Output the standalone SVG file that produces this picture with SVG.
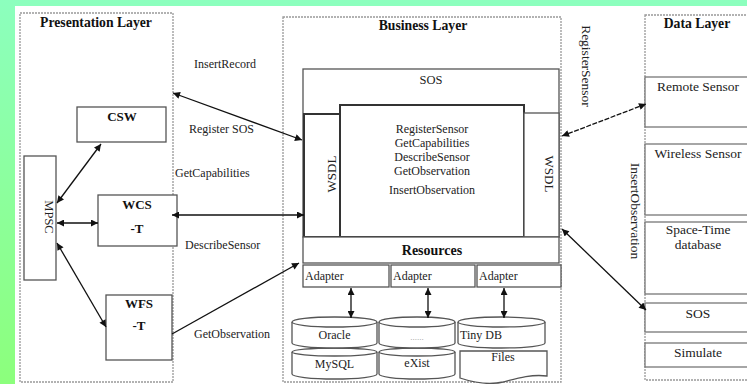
<svg xmlns="http://www.w3.org/2000/svg" width="747" height="384" viewBox="0 0 747 384">
<defs>
<linearGradient id="bg" x1="0" y1="0" x2="0" y2="1">
<stop offset="0" stop-color="#8cffbe"/>
<stop offset="1" stop-color="#8cff7c"/>
</linearGradient>
<marker id="arr" viewBox="0 0 10 10" refX="10" refY="5" markerWidth="9" markerHeight="7" markerUnits="userSpaceOnUse" orient="auto-start-reverse">
<path d="M0,0 L10,5 L0,10 z" fill="#111"/>
</marker>
<style>
.layer{fill:none;stroke:#999;stroke-width:1.3;stroke-dasharray:2,1}
.box{fill:#fff;stroke:#555;stroke-width:1.3}
.thick{fill:#fff;stroke:#333;stroke-width:2}
.row{fill:#fff;stroke:#777;stroke-width:1.3}
.t{font-family:"Liberation Serif","Times New Roman",serif;fill:#222}
.b{font-weight:bold;fill:#111}
.c{text-anchor:middle}
.ln{stroke:#111;stroke-width:1.3;fill:none}
.da{marker-start:url(#arr);marker-end:url(#arr)}
.sa{marker-end:url(#arr)}
</style>
</defs>
<rect x="0" y="0" width="747" height="384" fill="url(#bg)"/>
<rect x="15" y="6" width="732" height="378" fill="#fff"/>

<g id="presentation-layer">
<rect class="layer" x="20" y="13" width="153" height="369"/>
<text class="t b c" x="96" y="27" font-size="13.7">Presentation Layer</text>
</g>
<g id="csw">
<rect class="box" x="77" y="107" width="89" height="35"/>
<text class="t b c" x="122" y="121" font-size="13">CSW</text>
</g>
<g id="mpsc">
<rect class="box" x="24" y="156" width="32" height="124"/>
<text class="t c" font-size="12.5" transform="translate(49,217) rotate(90)" dy="0.35em">MPSC</text>
</g>
<g id="wcs">
<rect class="box" x="98" y="195" width="79" height="51"/>
<text class="t b c" x="137" y="209" font-size="13">WCS</text>
<text class="t b c" x="137" y="233" font-size="13">-T</text>
</g>
<g id="wfs">
<rect class="box" x="106" y="295" width="66" height="65"/>
<text class="t b c" x="139" y="308" font-size="13">WFS</text>
<text class="t b c" x="139" y="330" font-size="13">-T</text>
</g>

<g id="business-layer">
<rect class="layer" x="283" y="17" width="278" height="365"/>
<text class="t b c" x="423" y="30" font-size="13.7">Business Layer</text>
</g>
<g id="sos">
<rect class="box" x="303" y="69" width="256" height="168"/>
<text class="t c" x="431" y="84" font-size="12.5">SOS</text>
</g>
<g id="wsdl-left">
<rect class="thick" x="304" y="114" width="36" height="123"/>
<text class="t c" font-size="13" transform="translate(331,174) rotate(-90)" dy="0.35em">WSDL</text>
</g>
<g id="operations">
<rect class="thick" x="340" y="105" width="184" height="132"/>
<text class="t c" x="432" y="133" font-size="12">RegisterSensor</text>
<text class="t c" x="432" y="147" font-size="12">GetCapabilities</text>
<text class="t c" x="432" y="161" font-size="12">DescribeSensor</text>
<text class="t c" x="432" y="175" font-size="12">GetObservation</text>
<text class="t c" x="432" y="194" font-size="12">InsertObservation</text>
</g>
<g id="wsdl-right">
<rect class="box" x="524" y="113" width="35" height="124"/>
<text class="t c" font-size="13" transform="translate(550,174) rotate(90)" dy="0.35em">WSDL</text>
</g>
<g id="resources">
<rect class="box" x="303" y="237" width="256" height="26"/>
<text class="t b c" x="432" y="255" font-size="14">Resources</text>
</g>
<g id="adapter-1">
<rect class="box" x="303" y="265" width="86" height="22"/>
<text class="t" x="305" y="280" font-size="12">Adapter</text>
</g>
<g id="adapter-2">
<rect class="box" x="391" y="265" width="84" height="22"/>
<text class="t" x="393" y="280" font-size="12">Adapter</text>
</g>
<g id="adapter-3">
<rect class="box" x="477" y="265" width="84" height="22"/>
<text class="t" x="479" y="280" font-size="12">Adapter</text>
</g>

<g id="mysql">
<path class="box" d="M292,352 L292,374 A42.5,5 0 0 0 377,374 L377,352"/>
<ellipse class="box" cx="334.5" cy="352" rx="42.5" ry="4"/>
<text class="t c" x="334.5" y="368" font-size="12">MySQL</text>
</g>
<g id="oracle">
<path class="box" d="M292,322 L292,343 A42.5,5 0 0 0 377,343 L377,322"/>
<ellipse class="box" cx="334.5" cy="322" rx="42.5" ry="5"/>
<text class="t c" x="334.5" y="339" font-size="12">Oracle</text>
</g>
<g id="exist">
<path class="box" d="M379,352 L379,374 A38,5 0 0 0 455,374 L455,352"/>
<ellipse class="box" cx="417" cy="352" rx="38" ry="4"/>
<text class="t c" x="417" y="367" font-size="12">eXist</text>
</g>
<g id="dots">
<path class="box" d="M379,322 L379,343 A38,5 0 0 0 455,343 L455,322"/>
<ellipse class="box" cx="417" cy="322" rx="38" ry="5"/>
<text class="t c" x="417" y="340" font-size="9" fill="#999" style="fill:#999">......</text>
</g>
<g id="tinydb">
<path class="box" d="M458,322 L458,343 A43.5,5 0 0 0 545,343 L545,322"/>
<ellipse class="box" cx="501.5" cy="322" rx="43.5" ry="5"/>
<text class="t" x="460" y="339" font-size="12">Tiny DB</text>
</g>
<g id="files">
<path class="box" d="M460,351 L547,351 L547,376 C532,374 518,378 503,382 C490,385 475,383 460,378 Z"/>
<text class="t c" x="503" y="361" font-size="12">Files</text>
</g>

<g id="data-layer">
<rect class="layer" x="645" y="15" width="110" height="365"/>
<text class="t b c" x="697" y="28" font-size="13.7">Data Layer</text>
</g>
<g id="remote-sensor">
<rect class="row" x="645" y="77" width="110" height="50"/>
<text class="t c" x="698" y="91" font-size="13.5">Remote Sensor</text>
</g>
<g id="wireless-sensor">
<rect class="row" x="645" y="144" width="110" height="71"/>
<text class="t c" x="698" y="158" font-size="13.5">Wireless Sensor</text>
</g>
<g id="space-time-database">
<rect class="row" x="645" y="222" width="110" height="72"/>
<text class="t c" x="698" y="234" font-size="13.5">Space-Time</text>
<text class="t c" x="698" y="249" font-size="13.5">database</text>
</g>
<g id="data-sos">
<rect class="row" x="645" y="303" width="110" height="29"/>
<text class="t c" x="698" y="318" font-size="13.5">SOS</text>
</g>
<g id="simulate">
<rect class="row" x="645" y="343" width="110" height="24"/>
<text class="t c" x="698" y="357" font-size="13.5">Simulate</text>
</g>

<g id="connectors">
<path class="ln da" d="M57,203 L101,144"/>
<path class="ln da" d="M57,223 L98,223"/>
<path class="ln da" d="M57,243 L106,327"/>
<path class="ln da" d="M173,93 L302,140"/>
<path class="ln da" d="M172,215 L304,215"/>
<path class="ln sa" d="M172,334 L299,263"/>
<path class="ln da" d="M351,288 L351,318"/>
<path class="ln da" d="M428,288 L428,318"/>
<path class="ln da" d="M504,288 L504,318"/>
<path class="ln da" d="M562,136 L646,104" stroke-dasharray="5,1.5"/>
<path class="ln da" d="M562,229 L646,310"/>
<text class="t" x="194" y="68" font-size="12">InsertRecord</text>
<text class="t" x="189" y="133" font-size="12">Register SOS</text>
<text class="t" x="175" y="177" font-size="12">GetCapabilities</text>
<text class="t" x="185" y="249" font-size="12">DescribeSensor</text>
<text class="t" x="194" y="338" font-size="12">GetObservation</text>
<text class="t c" font-size="13.5" transform="translate(587,66) rotate(90)" dy="0.35em">RegisterSensor</text>
<text class="t c" font-size="13.5" transform="translate(636,211) rotate(90)" dy="0.35em">InsertObservation</text>
</g>
</svg>
